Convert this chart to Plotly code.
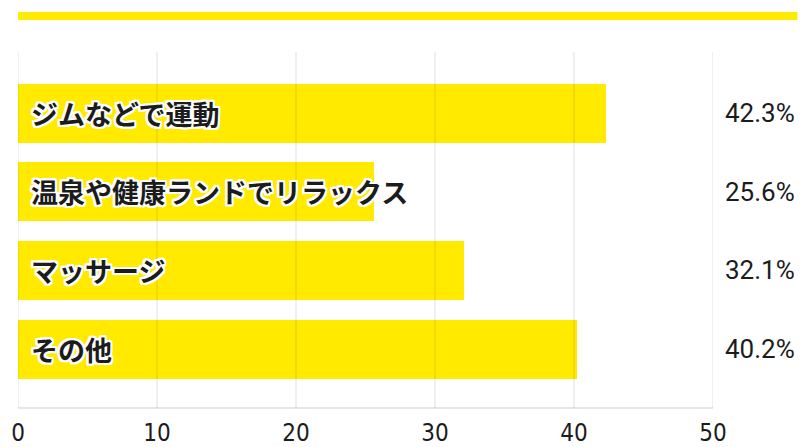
import plotly.graph_objects as go

# Survey results: ways of relieving fatigue (%)
categories = ["ジムなどで運動", "温泉や健康ランドでリラックス", "マッサージ", "その他"]
values = [42.3, 25.6, 32.1, 40.2]
tick_values = [0, 10, 20, 30, 40, 50]
tick_labels = ["0", "10", "20", "30", "40", "50"]

YELLOW = "#FFEA00"
GRID = "rgba(0,0,0,0.13)"
INK = "#1c1c1c"
TICK_FONT = "DejaVu Sans Condensed"
VALUE_FONT = "Roboto"
JP_FONT = "Noto Sans CJK JP"

outline = ", ".join(
    f"{dx}px {dy}px 0 #fff"
    for dx, dy in [(-2, 0), (2, 0), (0, -2), (0, 2), (-2, -2), (2, 2), (-2, 2), (2, -2),
                   (-1, -2), (1, 2), (-2, 1), (2, -1), (1, -2), (-1, 2), (2, 1), (-2, -1)]
)

fig = go.Figure()
fig.add_trace(go.Bar(
    x=values,
    y=categories,
    orientation="h",
    width=0.75,
    marker=dict(color=YELLOW, line=dict(width=0)),
    hoverinfo="skip",
))

# vertical grid drawn above the bars
shapes = [
    dict(type="line", xref="x", yref="paper", x0=t, x1=t, y0=0, y1=1,
         line=dict(color=GRID, width=1), layer="above")
    for t in tick_values
]
# bottom baseline
shapes.append(dict(type="line", xref="paper", yref="paper", x0=0, x1=1, y0=0, y1=0,
                   line=dict(color=GRID, width=1.5), layer="above"))
# yellow header rule
shapes.append(dict(type="rect", xref="paper", yref="paper", x0=0, x1=1.1215,
                   y0=1.0899, y1=1.1124, fillcolor=YELLOW, line=dict(width=0),
                   layer="below"))

annotations = []
for cat, v in zip(categories, values):
    annotations.append(dict(
        x=0, xref="x", y=cat, yref="y", xanchor="left", yanchor="middle",
        xshift=11, yshift=0, showarrow=False, text=f"<b>{cat}</b>",
        font=dict(family=JP_FONT, size=27, color=INK, shadow=outline),
    ))
    annotations.append(dict(
        x=1.1215, xref="paper", y=cat, yref="y", xanchor="right", yanchor="middle",
        showarrow=False, text=f"{v:.1f}%",
        font=dict(family=VALUE_FONT, size=26, color=INK),
    ))

fig.update_layout(
    width=801, height=447,
    margin=dict(l=17.5, r=88, t=52, b=39, pad=0),
    paper_bgcolor="white", plot_bgcolor="white",
    showlegend=False,
    bargap=0,
    shapes=shapes,
    annotations=annotations,
    xaxis=dict(
        range=[0, 50], tickvals=tick_values, ticktext=tick_labels,
        showgrid=False, zeroline=False, showline=False, ticks="",
        tickfont=dict(family=TICK_FONT, size=24, color=INK),
        ticklabelstandoff=8, automargin=False, fixedrange=True,
    ),
    yaxis=dict(
        categoryorder="array", categoryarray=categories,
        range=[3.75, -0.78], showticklabels=False, showgrid=False,
        zeroline=False, showline=False, ticks="", automargin=False,
        fixedrange=True,
    ),
)

fig.write_html("out.html")
